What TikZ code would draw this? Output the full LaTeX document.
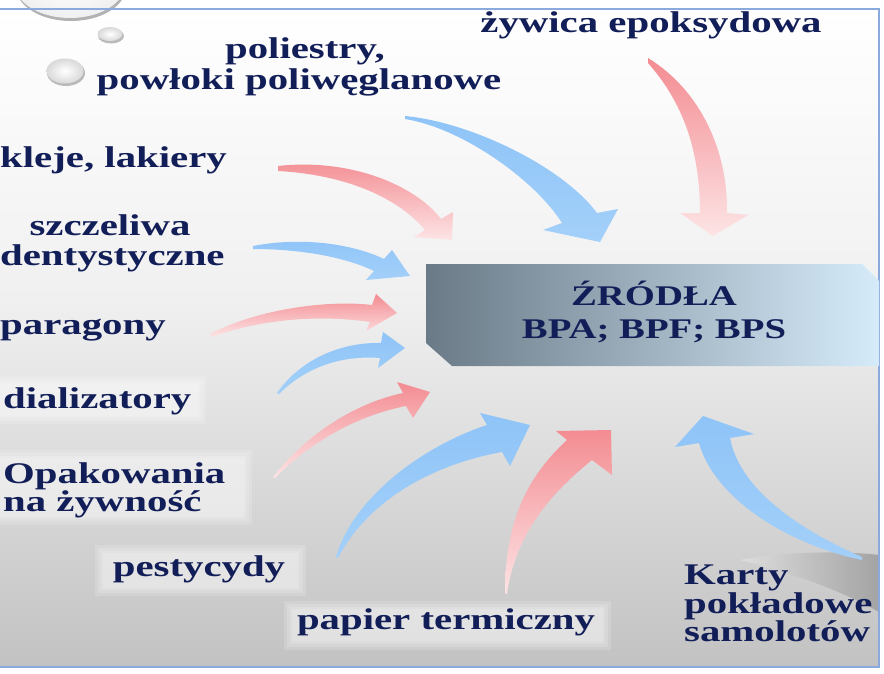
\documentclass[tikz,border=0pt]{standalone}
\usepackage{fontspec}
\newfontfamily\lblfont{Liberation Serif}[FakeStretch=1.36]
\usetikzlibrary{calc}

\definecolor{navy}{RGB}{18,30,88}
\definecolor{framecol}{RGB}{138,170,222}
\definecolor{arrowblue}{RGB}{143,196,248}
\definecolor{arrowbluelt}{RGB}{163,208,249}
\definecolor{arrowpink}{RGB}{243,140,146}
\definecolor{arrowpinklt}{RGB}{253,228,229}
\definecolor{boxdark}{RGB}{106,122,135}
\definecolor{boxmid}{RGB}{166,189,206}
\definecolor{boxlight}{RGB}{214,235,250}
\definecolor{bgmid}{RGB}{240,240,240}
\definecolor{bglow}{RGB}{194,194,194}

\tikzset{
  lbl/.style={text=navy, font=\lblfont\bfseries\fontsize{30}{32}\selectfont, inner sep=0pt},
  boxlbl/.style={text=navy, font=\lblfont\bfseries\fontsize{28.5}{30}\selectfont, inner sep=0pt},
  bluearrow/.style={top color=arrowblue, bottom color=arrowbluelt},
  pinkarrow/.style={top color=arrowpink, bottom color=arrowpinklt},
}

% light patch with soft edges, built from stacked translucent rectangles
\newcommand\softpatch[4]{%
  \foreach \d in {8,5,2,0}{%
    \fill[white, opacity=0.16] ({#1-\d},{#2-\d}) rectangle ({#3+\d},{#4+\d});%
  }%
}

\begin{document}
\begin{tikzpicture}[x=1pt,y=-1pt]
\useasboundingbox (0,0) rectangle (884,673);
\clip (0,0) rectangle (884,673);

% background
\fill[white] (0,0) rectangle (884,673);
\shade[top color=white, bottom color=bgmid] (0,9) rectangle (879,300);
\shade[top color=bgmid, bottom color=bglow] (0,300) rectangle (879,667);

% soft shadow in the lower right corner
\shade[left color=bgmid!60!bglow, right color=black!36]
  (740,560) .. controls (790,551) and (845,551) .. (879,555)
  -- (879,612) .. controls (840,590) and (790,572) .. (740,560) -- cycle;

% bubbles
\fill[gray!60] (71,-13) ellipse [x radius=55, y radius=34];
\shade[inner color=white, outer color=gray!12] (70,-16) ellipse [x radius=55, y radius=34];
\fill[gray!55] (111,36) ellipse [x radius=13, y radius=7.5];
\shade[inner color=white, outer color=gray!30] (110,34) ellipse [x radius=12.5, y radius=7];
\fill[gray!55] (66,73) ellipse [x radius=19, y radius=13];
\shade[inner color=white, outer color=gray!30] (65,71) ellipse [x radius=18.5, y radius=12.5];

% frame
\draw[framecol, line width=2.5pt] (0,9) -- (879,9) -- (879,667) -- (0,667);

% light patches behind the lower labels
\softpatch{0}{384}{198}{416}
\softpatch{0}{458}{244}{517}
\softpatch{103}{553}{298}{588}
\softpatch{292}{609}{603}{642}

% central box
\shade[left color=boxdark, middle color=boxmid, right color=boxlight]
  (426,264) -- (862,264) -- (879,281) -- (879,366) -- (452,366) -- (426,343) -- cycle;
\node[boxlbl, anchor=base] (zrodla) at (654,305) {ŹRÓDŁA};
\node[boxlbl, anchor=base] (bpa) at (654,338) {BPA; BPF; BPS};

% arrows
\shade[bluearrow] (405,116) .. controls (470,122) and (562,166) .. (597,213)
  -- (618,209) -- (600,242) -- (543,230) -- (562,223)
  .. controls (535,180) and (462,128) .. (405,119) -- cycle;
\shade[pinkarrow] (648,58) .. controls (700,90) and (728,150) .. (727,213)
  -- (748,215) -- (713,236) -- (680,213) -- (700,213)
  .. controls (700,160) and (688,108) .. (648,63) -- cycle;
\shade[pinkarrow] (278,166) .. controls (350,158) and (415,185) .. (441,219)
  -- (453,212) -- (452,240) -- (414,237) -- (425,230)
  .. controls (400,200) and (350,175) .. (278,171) -- cycle;
\shade[bluearrow] (253,246) .. controls (305,236) and (355,245) .. (384,259)
  -- (392,250) -- (410,276) -- (366,280) -- (374,271)
  .. controls (345,257) and (300,249) .. (253,249) -- cycle;
\shade[pinkarrow] (210,334) .. controls (260,308) and (330,300) .. (372,305)
  -- (376,294) -- (397,313) -- (366,331) -- (370,322)
  .. controls (330,316) and (270,316) .. (212,337) -- cycle;
\shade[bluearrow] (277,393) .. controls (300,360) and (340,342) .. (381,343)
  -- (383,332) -- (405,348) -- (378,368) -- (380,358)
  .. controls (340,355) and (305,368) .. (279,394) -- cycle;
\shade[pinkarrow] (273,477) .. controls (310,430) and (360,402) .. (403,393)
  -- (397,382) -- (430,392) -- (413,418) -- (406,406)
  .. controls (360,415) and (312,440) .. (275,478) -- cycle;
\shade[bluearrow] (336,557) .. controls (352,500) and (420,447) .. (487,425)
  -- (480,413) -- (530,425) -- (510,466) -- (502,452)
  .. controls (430,465) and (367,502) .. (338,558) -- cycle;
\shade[pinkarrow] (505,593) .. controls (505,520) and (528,476) .. (567,440)
  -- (556,431) -- (611,430) -- (612,475) -- (592,460)
  .. controls (555,490) and (516,530) .. (507,594) -- cycle;
\shade[bluearrow] (862,560) .. controls (790,545) and (715,500) .. (699,443)
  -- (675,447) -- (703,416) -- (754,434) -- (730,438)
  .. controls (740,490) and (800,530) .. (862,557) -- cycle;

% labels
\node[lbl, anchor=base] (zywica) at (651,32) {żywica epoksydowa};
\node[lbl, anchor=base] (poliestry) at (305,58) {poliestry,};
\node[lbl, anchor=base] (powloki) at (299,89) {powłoki poliwęglanowe};
\node[lbl, anchor=base west] (kleje) at (0,167) {kleje, lakiery};
\node[lbl, anchor=base] (szczeliwa) at (110,235) {szczeliwa};
\node[lbl, anchor=base west] (dentystyczne) at (0,265) {dentystyczne};
\node[lbl, anchor=base west] (paragony) at (0,334) {paragony};
\node[lbl, anchor=base west] (dializatory) at (3,408) {dializatory};
\node[lbl, anchor=base west] (opakowania) at (3,483) {Opakowania};
\node[lbl, anchor=base west] (zywnosc) at (3,511) {na żywność};
\node[lbl, anchor=base] (pestycydy) at (199,576) {pestycydy};
\node[lbl, anchor=base] (papier) at (446,629) {papier termiczny};
\node[lbl, anchor=base west] (karty) at (684,584) {Karty};
\node[lbl, anchor=base west] (pokladowe) at (684,613) {pokładowe};
\node[lbl, anchor=base west] (samolotow) at (684,641) {samolotów};
\end{tikzpicture}
\end{document}
